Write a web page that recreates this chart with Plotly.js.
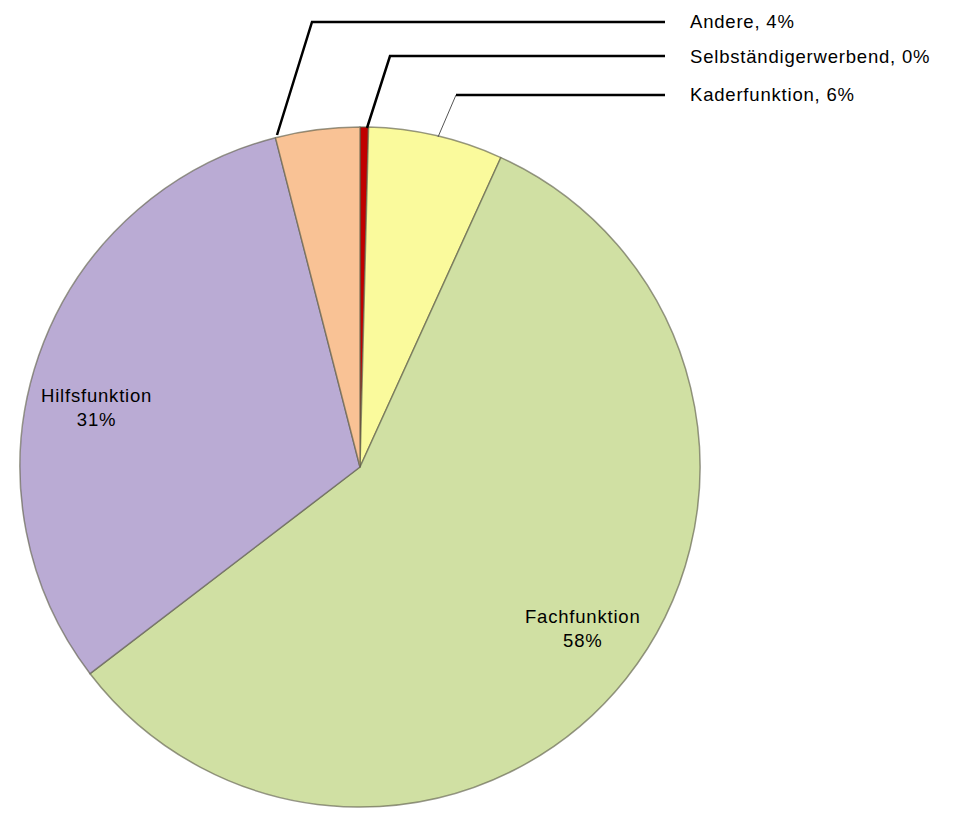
<!DOCTYPE html>
<html>
<head>
<meta charset="utf-8">
<script src="https://cdn.plot.ly/plotly-3.0.1.min.js"></script>
<style>
html,body{margin:0;padding:0;background:#fff;}
#chart{width:962px;height:814px;}
svg text{letter-spacing:0.8px;}
</style>
</head>
<body>
<div id="chart"></div>
<script>
// Data (clockwise from 12 o'clock)
const labels = ["Selbständigerwerbend", "Kaderfunktion", "Fachfunktion", "Hilfsfunktion", "Andere"];
const values = [0.4, 6.4, 57.8, 31.4, 4.0];
const colors = ["#C00000", "#FAFA9C", "#D0E0A3", "#BAABD4", "#F9C295"];

const W = 962, H = 814;
const px = (x, y) => [x / W, 1 - y / H];
const total = values.reduce((a, b) => a + b, 0);
const pct = v => Math.round(v / total * 100) + "%";

const trace = {
  type: "pie",
  values: values,
  labels: labels,
  sort: false,
  direction: "clockwise",
  rotation: 0,
  textinfo: "none",
  hoverinfo: "label+percent",
  marker: {colors: colors, line: {color: "rgba(95,95,75,0.65)", width: 1.5}},
  domain: {x: [15 / W, 705 / W], y: [1 - 807 / H, 1 - 127 / H]},
  showlegend: false
};

// Leader lines (pixel layout positions)
const leaders = {
  "Andere": {pts: [[277, 135], [312, 22], [665, 22]], y: 22},
  "Selbständigerwerbend": {pts: [[367, 128], [390, 56], [665, 56]], y: 56},
  "Kaderfunktion": {pts: [[438, 137], [456, 95], [665, 95]], y: 95, thin: true}
};
const insidePos = {"Hilfsfunktion": [96, 407], "Fachfunktion": [583, 628]};

const shapes = [];
const annotations = [];
const font = {family: "Liberation Sans, Arial, sans-serif", size: 18.5, color: "#000"};

labels.forEach((lab, i) => {
  if (leaders[lab]) {
    const L = leaders[lab];
    const p = L.pts.map(q => px(q[0], q[1]));
    if (L.thin) {
      shapes.push({type: "line", xref: "paper", yref: "paper", x0: p[0][0], y0: p[0][1], x1: p[1][0], y1: p[1][1], line: {color: "#555", width: 1}});
      shapes.push({type: "line", xref: "paper", yref: "paper", x0: p[1][0], y0: p[1][1], x1: p[2][0], y1: p[2][1], line: {color: "#000", width: 2.5}});
    } else {
      shapes.push({type: "path", xref: "paper", yref: "paper",
        path: `M ${p[0][0]} ${p[0][1]} L ${p[1][0]} ${p[1][1]} L ${p[2][0]} ${p[2][1]}`,
        line: {color: "#000", width: 2.5}});
    }
    const t = px(688, L.y);
    annotations.push({xref: "paper", yref: "paper", x: t[0], y: t[1], xanchor: "left", yanchor: "middle",
      text: lab + ", " + pct(values[i]), showarrow: false, font: font});
  }
  if (insidePos[lab]) {
    const t = px(insidePos[lab][0], insidePos[lab][1]);
    annotations.push({xref: "paper", yref: "paper", x: t[0], y: t[1], xanchor: "center", yanchor: "middle",
      text: lab + "<br>" + pct(values[i]), showarrow: false, font: font, align: "center"});
  }
});

const layout = {
  width: W, height: H,
  margin: {l: 0, r: 0, t: 0, b: 0},
  paper_bgcolor: "#fff",
  plot_bgcolor: "#fff",
  shapes: shapes,
  annotations: annotations,
  font: font
};

Plotly.newPlot("chart", [trace], layout, {displayModeBar: false, staticPlot: true});
</script>
</body>
</html>
